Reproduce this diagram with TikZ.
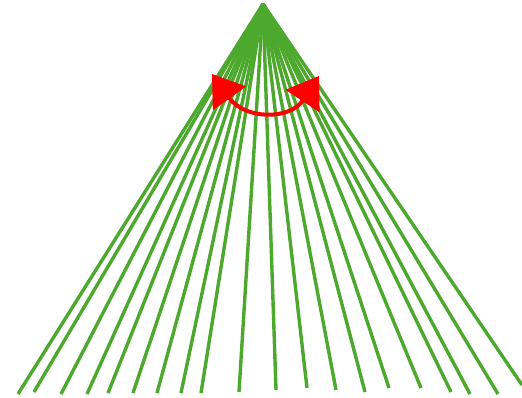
\documentclass[tikz,border=0pt]{standalone}
\usetikzlibrary{arrows.meta}
\definecolor{fangreen}{RGB}{77,168,46}
\begin{document}
\begin{tikzpicture}[x=1pt,y=-1pt,
  ray/.style={draw=fangreen,line width=3.4pt},
  swing/.style={draw=red,line width=4pt,{Triangle[length=30pt,width=40pt]}-{Triangle[length=30pt,width=40pt]}}]
\useasboundingbox (0,0) rectangle (522,398);
\coordinate (apex) at (263,4);
\foreach \i/\x/\y in {1/18/394,2/34/392,3/61/394,4/87/394,5/108/393,6/133/393,7/157/393,8/181/393,9/201/393,10/239/392,11/276/390,12/307/388,13/336/390,14/365/392,15/389/388,16/421/388,17/451/392,18/470/394,19/498/394,20/522/385}{
  \coordinate (e\i) at (\x,\y);
  \draw[ray] (apex) -- (e\i);
}
\coordinate (lt) at (212,74);
\coordinate (rt) at (319,76);
\draw[swing] (lt) .. controls (245,120) and (290,120) .. (rt);
\end{tikzpicture}
\end{document}
